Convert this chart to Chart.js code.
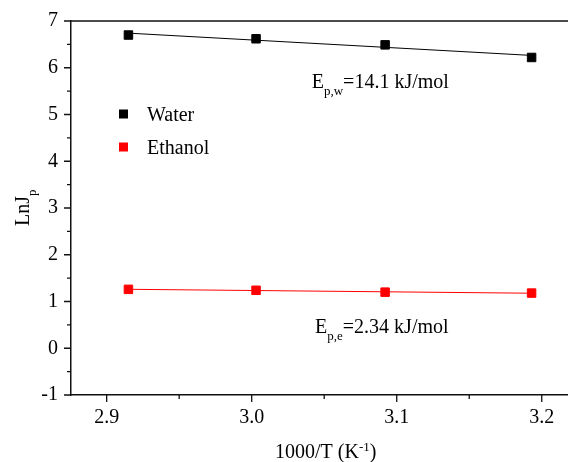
<!DOCTYPE html>
<html>
<head>
<meta charset="utf-8">
<script src="https://cdn.jsdelivr.net/npm/chart.js@4"></script>
<style>
  body { margin: 0; background: #fff; }
  canvas { display: block; }
</style>
</head>
<body>
<canvas id="chart" width="568" height="462"></canvas>
<script>
// data
const waterX = [2.915, 3.003, 3.092, 3.193];
const waterY = [6.70, 6.62, 6.49, 6.22];
const ethanolX = [2.915, 3.003, 3.092, 3.193];
const ethanolY = [1.26, 1.24, 1.20, 1.18];

const xTicks = [2.9, 3.0, 3.1, 3.2];
const xMinorTicks = [2.95, 3.05, 3.15];
const yTicks = [-1, 0, 1, 2, 3, 4, 5, 6, 7];
const yMinorTicks = [-0.5, 0.5, 1.5, 2.5, 3.5, 4.5, 5.5, 6.5];

// text labels: [x value, y value, main, subscript, rest]
const notes = [
  [3.0414, 5.567, 'E', 'p,w', '=14.1 kJ/mol'],
  [3.0437, 0.333, 'E', 'p,e', '=2.34 kJ/mol']
];

const FONT = '"Liberation Serif", "Times New Roman", serif';
const BIG = 20, SMALL = 13;

function pts(xs, ys) {
  return xs.map((x, i) => ({ x: x, y: ys[i] }));
}

// least squares line through the points, drawn over the data range
function fitLine(xs, ys) {
  const n = xs.length;
  const mx = xs.reduce((a, b) => a + b, 0) / n;
  const my = ys.reduce((a, b) => a + b, 0) / n;
  let sxy = 0, sxx = 0;
  for (let i = 0; i < n; i++) {
    sxy += (xs[i] - mx) * (ys[i] - my);
    sxx += (xs[i] - mx) * (xs[i] - mx);
  }
  const k = sxy / sxx;
  const x0 = Math.min(...xs), x1 = Math.max(...xs);
  return [{ x: x0, y: my + k * (x0 - mx) }, { x: x1, y: my + k * (x1 - mx) }];
}

const extras = {
  id: 'extras',
  afterDraw(chart) {
    const ctx = chart.ctx;
    const xs = chart.scales.x, ys = chart.scales.y;
    const area = chart.chartArea;
    ctx.save();
    ctx.strokeStyle = '#111';
    ctx.lineWidth = 1.5;

    // top frame line
    ctx.beginPath();
    ctx.moveTo(area.left, area.top);
    ctx.lineTo(area.right, area.top);
    ctx.stroke();

    // outward ticks
    ctx.lineWidth = 1.3;
    ctx.beginPath();
    yTicks.forEach(v => {
      const y = ys.getPixelForValue(v);
      ctx.moveTo(area.left - 7, y); ctx.lineTo(area.left, y);
    });
    yMinorTicks.forEach(v => {
      const y = ys.getPixelForValue(v);
      ctx.moveTo(area.left - 4, y); ctx.lineTo(area.left, y);
    });
    xTicks.forEach(v => {
      const x = xs.getPixelForValue(v);
      ctx.moveTo(x, area.bottom); ctx.lineTo(x, area.bottom + 7);
    });
    xMinorTicks.forEach(v => {
      const x = xs.getPixelForValue(v);
      ctx.moveTo(x, area.bottom); ctx.lineTo(x, area.bottom + 4);
    });
    ctx.stroke();

    ctx.fillStyle = '#000';
    ctx.textBaseline = 'alphabetic';
    ctx.textAlign = 'left';

    // legend
    const legendRows = [[0, 114], [1, 147]];
    legendRows.forEach(([i, y]) => {
      const ds = chart.data.datasets[i];
      ctx.fillStyle = ds.backgroundColor;
      ctx.fillRect(119, y - 4.5, 9, 9);
      ctx.fillStyle = '#000';
      ctx.font = BIG + 'px ' + FONT;
      ctx.fillText(ds.label, 147, y + 7);
    });

    // activation energy notes
    notes.forEach(([vx, vy, main, sub, rest]) => {
      let x = xs.getPixelForValue(vx);
      const y = ys.getPixelForValue(vy);
      ctx.font = BIG + 'px ' + FONT;
      ctx.fillText(main, x, y);
      x += ctx.measureText(main).width;
      ctx.font = SMALL + 'px ' + FONT;
      ctx.fillText(sub, x, y + 7);
      x += ctx.measureText(sub).width;
      ctx.font = BIG + 'px ' + FONT;
      ctx.fillText(rest, x, y);
    });

    // x title with superscript
    let tx = 275;
    ctx.font = BIG + 'px ' + FONT;
    ctx.fillText('1000/T (K', tx, 458);
    tx += ctx.measureText('1000/T (K').width;
    ctx.font = SMALL + 'px ' + FONT;
    ctx.fillText('-1', tx, 451);
    tx += ctx.measureText('-1').width;
    ctx.font = BIG + 'px ' + FONT;
    ctx.fillText(')', tx, 458);

    // y title with subscript
    ctx.translate(29, 226);
    ctx.rotate(-Math.PI / 2);
    ctx.font = BIG + 'px ' + FONT;
    ctx.fillText('LnJ', 0, 0);
    const w = ctx.measureText('LnJ').width;
    ctx.font = SMALL + 'px ' + FONT;
    ctx.fillText('p', w, 7);

    ctx.restore();
  }
};

new Chart(document.getElementById('chart'), {
  type: 'scatter',
  data: {
    datasets: [
      {
        label: 'Water',
        data: pts(waterX, waterY),
        backgroundColor: '#000000',
        borderColor: '#000000',
        pointStyle: 'rect',
        pointRadius: 6,
        borderWidth: 1,
        order: 1
      },
      {
        label: 'Ethanol',
        data: pts(ethanolX, ethanolY),
        backgroundColor: '#ff0000',
        borderColor: '#ff0000',
        pointStyle: 'rect',
        pointRadius: 6,
        borderWidth: 1,
        order: 1
      },
      {
        type: 'line',
        label: 'Water fit',
        data: fitLine(waterX, waterY),
        borderColor: '#000000',
        borderWidth: 1,
        pointRadius: 0,
        order: 2
      },
      {
        type: 'line',
        label: 'Ethanol fit',
        data: fitLine(ethanolX, ethanolY),
        borderColor: '#ff0000',
        borderWidth: 1,
        pointRadius: 0,
        order: 2
      }
    ]
  },
  options: {
    responsive: false,
    devicePixelRatio: 1,
    animation: false,
    layout: { autoPadding: false, padding: { top: 21, left: 0, right: 0, bottom: 0 } },
    plugins: {
      legend: { display: false },
      tooltip: { enabled: false }
    },
    scales: {
      x: {
        type: 'linear',
        min: 2.8754,
        max: 3.2181,
        afterBuildTicks: s => { s.ticks = xTicks.map(v => ({ value: v })); },
        afterFit: s => { s.height = 67; s.paddingLeft = 0; s.paddingRight = 0; },
        grid: { display: false, drawTicks: false },
        border: { display: true, color: '#111', width: 1.5 },
        ticks: {
          color: '#000',
          font: { family: FONT, size: BIG },
          padding: 11,
          maxRotation: 0,
          callback: v => v.toFixed(1)
        }
      },
      y: {
        min: -1,
        max: 7,
        afterBuildTicks: s => { s.ticks = yTicks.map(v => ({ value: v })); },
        afterFit: s => { s.width = 71; s.paddingTop = 0; s.paddingBottom = 0; },
        grid: { display: false, drawTicks: false },
        border: { display: true, color: '#111', width: 1.5 },
        ticks: {
          color: '#000',
          font: { family: FONT, size: BIG },
          padding: 13,
          callback: v => String(v)
        }
      }
    }
  },
  plugins: [extras]
});
</script>
</body>
</html>
